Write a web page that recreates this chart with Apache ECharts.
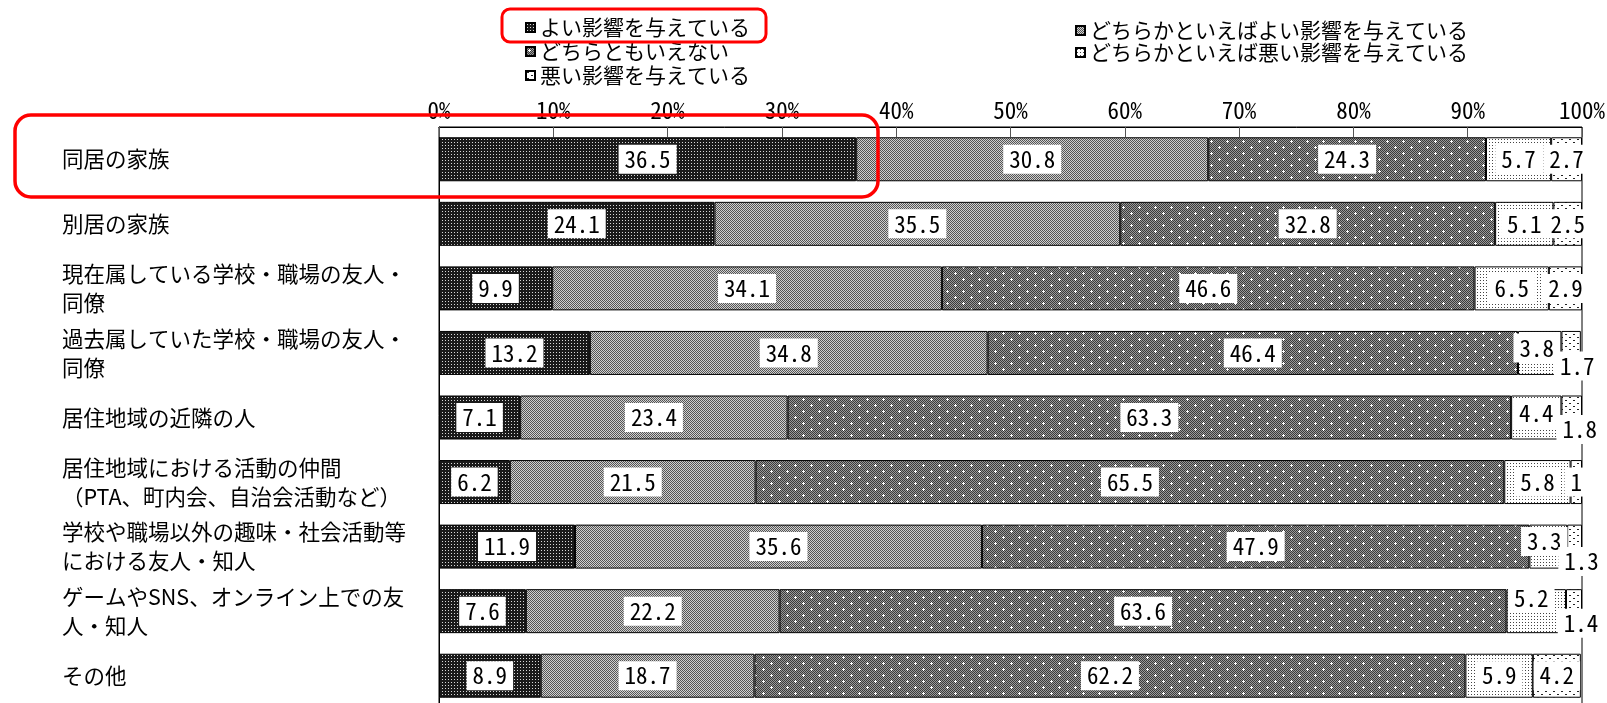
<!DOCTYPE html>
<html>
<head>
<meta charset="utf-8">
<script src="https://cdn.jsdelivr.net/npm/echarts@6/dist/echarts.min.js"></script>
<style>
  html, body { margin: 0; padding: 0; background: #fff; }
  #chart { width: 1607px; height: 703px; }
</style>
</head>
<body>
<div id="chart"></div>
<script>
// Categories (top to bottom)
const categories = [
  '同居の家族',
  '別居の家族',
  '現在属している学校・職場の友人・\n同僚',
  '過去属していた学校・職場の友人・\n同僚',
  '居住地域の近隣の人',
  '居住地域における活動の仲間\n（PTA、町内会、自治会活動など）',
  '学校や職場以外の趣味・社会活動等\nにおける友人・知人',
  'ゲームやSNS、オンライン上での友\n人・知人',
  'その他'
];

// Series names
const nameGood = 'よい影響を与えている';
const nameRatherGood = 'どちらかといえばよい影響を与えている';
const nameNeither = 'どちらともいえない';
const nameRatherBad = 'どちらかといえば悪い影響を与えている';
const nameBad = '悪い影響を与えている';

// Percentages per category
const good       = [36.5, 24.1,  9.9, 13.2,  7.1,  6.2, 11.9,  7.6,  8.9];
const ratherGood = [30.8, 35.5, 34.1, 34.8, 23.4, 21.5, 35.6, 22.2, 18.7];
const neither    = [24.3, 32.8, 46.6, 46.4, 63.3, 65.5, 47.9, 63.6, 62.2];
const ratherBad  = [ 5.7,  5.1,  6.5,  3.8,  4.4,  5.8,  3.3,  5.2,  5.9];
const bad        = [ 2.7,  2.5,  2.9,  1.7,  1.8,  1,    1.3,  1.4,  4.2];

// Axis
const axisMin = 0, axisMax = 100, axisStep = 10;

// Label nudges for the narrow end segments (series key -> category index -> [dx, dy])
const labelNudge = {
  ratherBad: { 3: [-3, -5], 4: [0, -4], 6: [-4, -5], 7: [-5, -13] },
  bad:       { 3: [6, 13],  4: [8, 12], 6: [7, 15],  7: [7, 12] }
};

// Fill patterns
function makePattern(w, h, draw) {
  const c = document.createElement('canvas');
  c.width = w; c.height = h;
  const ctx = c.getContext('2d');
  draw(ctx);
  return { image: c, repeat: 'repeat' };
}
const patGood = makePattern(3, 3, ctx => {
  ctx.fillStyle = '#1a1a1a'; ctx.fillRect(0, 0, 3, 3);
  ctx.fillStyle = '#d8d8d8'; ctx.fillRect(1, 1, 1, 1);
});
const patRatherGood = makePattern(2, 2, ctx => {
  ctx.fillStyle = '#d0d0d0'; ctx.fillRect(0, 0, 2, 2);
  ctx.fillStyle = '#555555'; ctx.fillRect(0, 0, 1, 1); ctx.fillRect(1, 1, 1, 1);
});
const patNeither = makePattern(16, 12, ctx => {
  ctx.fillStyle = '#9a9a9a'; ctx.fillRect(0, 0, 16, 12);
  ctx.fillStyle = '#3a3a3a';
  for (let y = 0; y < 12; y++) for (let x = 0; x < 16; x++) if ((x + y) % 2 === 0) ctx.fillRect(x, y, 1, 1);
  ctx.fillStyle = '#ffffff';
  [[3, 3], [11, 9]].forEach(([x, y]) => {
    ctx.fillRect(x, y - 1, 1, 3); ctx.fillRect(x - 1, y, 3, 1);
  });
});
const patRatherBad = makePattern(3, 3, ctx => {
  ctx.fillStyle = '#ffffff'; ctx.fillRect(0, 0, 3, 3);
  ctx.fillStyle = '#444444'; ctx.fillRect(1, 1, 1, 1);
});
const patBad = makePattern(8, 6, ctx => {
  ctx.fillStyle = '#ffffff'; ctx.fillRect(0, 0, 8, 6);
  ctx.fillStyle = '#222222'; ctx.fillRect(1, 1, 2, 1); ctx.fillRect(5, 4, 2, 1);
});

const monoFont = "'Noto Sans Mono CJK JP', 'DejaVu Sans Mono', monospace";
const jpFont = "'Noto Sans CJK JP', sans-serif";

function buildData(values, key) {
  const nudges = labelNudge[key] || {};
  return values.map((v, i) => nudges[i]
    ? { value: v, label: { offset: nudges[i] } }
    : v);
}

function barSeries(name, values, pattern, key) {
  return {
    name: name,
    type: 'bar',
    stack: 'total',
    barWidth: 44,
    data: buildData(values, key),
    itemStyle: { color: pattern, borderColor: '#000', borderWidth: 1 },
    label: {
      show: true,
      position: 'inside',
      color: '#000',
      backgroundColor: '#fff',
      padding: [4, 6],
      fontFamily: monoFont,
      fontSize: 23,
      lineHeight: 21
    },
    emphasis: { disabled: true },
    animation: false
  };
}

const chart = echarts.init(document.getElementById('chart'), null, { renderer: 'canvas' });

chart.setOption({
  backgroundColor: '#fff',
  animation: false,
  grid: {
    left: 439, top: 127, width: 1143, height: 581,
    show: true, borderColor: '#000', borderWidth: 1,
    outerBoundsMode: 'none'
  },
  legend: [
    {
      data: [nameGood, nameNeither, nameBad],
      orient: 'vertical',
      left: 525, top: 17,
      icon: 'rect', itemWidth: 9, itemHeight: 9, itemGap: 3,
      padding: 0,
      textStyle: { fontFamily: jpFont, fontSize: 21, color: '#000' },
      selectedMode: false
    },
    {
      data: [nameRatherGood, nameRatherBad],
      orient: 'vertical',
      left: 1075, top: 20,
      icon: 'rect', itemWidth: 9, itemHeight: 9, itemGap: 1,
      padding: 0,
      textStyle: { fontFamily: jpFont, fontSize: 21, color: '#000' },
      selectedMode: false
    }
  ],
  xAxis: {
    type: 'value',
    position: 'top',
    min: axisMin, max: axisMax, interval: axisStep,
    axisLine: { show: true, lineStyle: { color: '#000', width: 1 } },
    axisTick: { show: true, inside: true, length: 10, lineStyle: { color: '#555' } },
    splitLine: { show: false },
    axisLabel: {
      formatter: '{value}%', color: '#000',
      fontFamily: monoFont, fontSize: 23, margin: 5
    }
  },
  yAxis: {
    type: 'category',
    inverse: true,
    data: categories,
    axisLine: { show: true, lineStyle: { color: '#000', width: 1 } },
    axisTick: { show: false },
    splitLine: { show: false },
    axisLabel: {
      align: 'left', margin: 377, color: '#000',
      fontFamily: jpFont, fontSize: 21.5, lineHeight: 29
    }
  },
  series: [
    barSeries(nameGood, good, patGood, 'good'),
    barSeries(nameRatherGood, ratherGood, patRatherGood, 'ratherGood'),
    barSeries(nameNeither, neither, patNeither, 'neither'),
    barSeries(nameRatherBad, ratherBad, patRatherBad, 'ratherBad'),
    barSeries(nameBad, bad, patBad, 'bad')
  ],
  graphic: [
    {
      type: 'rect', z: 100,
      shape: { x: 502, y: 9, width: 264, height: 33, r: 8 },
      style: { fill: 'none', stroke: '#ff0000', lineWidth: 3 }
    },
    {
      type: 'rect', z: 100,
      shape: { x: 15, y: 115, width: 863, height: 82, r: 16 },
      style: { fill: 'none', stroke: '#ff0000', lineWidth: 3.5 }
    }
  ]
});
</script>
</body>
</html>
